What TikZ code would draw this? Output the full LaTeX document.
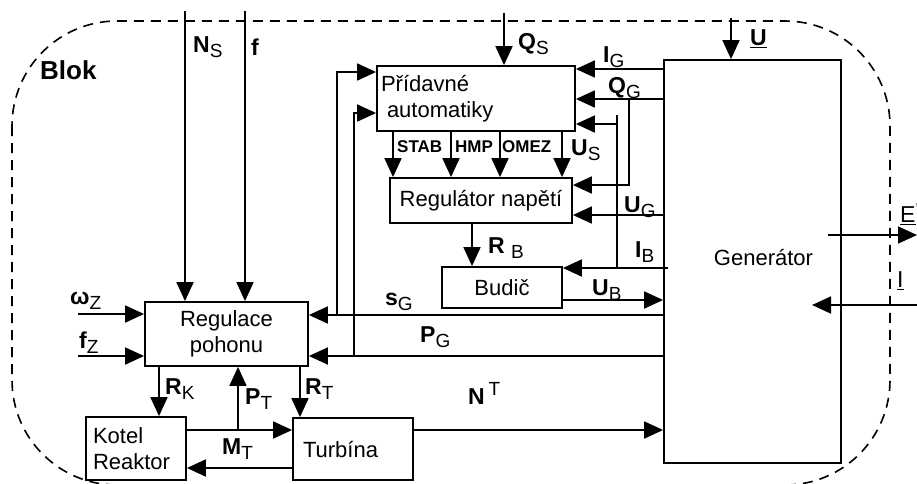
\documentclass[tikz,border=0pt]{standalone}
\usepackage{fontspec}
\setmainfont{Liberation Sans}
\usetikzlibrary{arrows.meta,positioning,calc}

\newcommand{\velic}[2]{{\bfseries #1}\raisebox{-5pt}{\fontsize{19}{22}\selectfont #2}}

\tikzset{
	blok/.style={draw,line width=1.8pt,inner sep=0pt,font=\fontsize{22}{26}\selectfont,align=center},
	sipka/.style={-{Triangle[length=19pt,width=17pt]},line width=1.8pt},
	vedeni/.style={line width=1.8pt},
	popis/.style={anchor=west,inner sep=0pt,font=\fontsize{23}{26}\selectfont},
	mala/.style={anchor=west,inner sep=0pt,font=\fontsize{17}{19}\selectfont\bfseries}
}

\begin{document}
\begin{tikzpicture}[x=1pt,y=-1pt]
	\useasboundingbox (0,0) rectangle (917,483);
	% hranice bloku
	\draw[line width=1.6pt,dash pattern=on 10pt off 7pt,rounded corners=105pt] (12,21) rectangle (890,485);
	\node[popis,font=\fontsize{26}{30}\selectfont\bfseries] (blok) at (40,70) {Blok};
	
	% bloky
	\node[blok,minimum width=198pt,minimum height=65pt,text width=190pt,align=left] (pa) at (476,98.5) {P\v{r}\'idavn\'e\\\hspace*{6pt}automatiky};
	\node[blok,minimum width=182pt,minimum height=45pt] (rn) at (481,200.5) {Regul\'ator nap\v{e}t\'i};
	\node[blok,minimum width=120pt,minimum height=41pt] (bu) at (502,287.5) {Budi\v{c}};
	\node[blok,minimum width=177pt,minimum height=403pt,label={[xshift=11pt,yshift=4pt,font=\fontsize{22}{26}\selectfont]center:Gener\'ator}] (gen) at (752.5,261.5) {};
	\node[blok,minimum width=163pt,minimum height=64pt] (rp) at (226.5,334) {Regulace\\pohonu};
	\node[blok,minimum width=100pt,minimum height=63pt,text width=86pt,align=left] (kr) at (136,448.5) {Kotel\\Reaktor};
	\node[blok,minimum width=120pt,minimum height=62pt,text width=100pt,align=left] (tu) at (353,449) {Turb\'ina};
	
	% vstupy shora
	\coordinate (ns) at (185,11);
	\coordinate (fin) at (245,11);
	\coordinate (qs) at (504,13);
	\coordinate (uin) at (731,18);
	\draw[sipka] (ns) -- (ns |- rp.north);
	\draw[sipka] (fin) -- (fin |- rp.north);
	\draw[sipka] (qs) -- (qs |- pa.north);
	\draw[sipka] (uin) -- (uin |- gen.north);
	\node[popis] (lns) at (193,47) {\velic{N}{S}};
	\node[popis] (lf) at (251,47) {\textbf{f}};
	\node[popis] (lqs) at (518,44) {\velic{Q}{S}};
	\node[popis] (lu) at (750,39) {\underline{\textbf{U}}};
	
	% z generatoru do pridavnych automatik a regulatoru
	\coordinate (qg) at (629,99);
	\coordinate (ibh) at (617,115);
	\coordinate (ib) at (668,268);
	\draw[sipka] (gen.west |- 0,69) -- (pa.east |- 0,69);
	\draw[sipka] (gen.west |- 0,99) -- (pa.east |- 0,99);
	\draw[sipka] (qg) |- (rn.east |- 0,185);
	\draw[sipka] (gen.west |- 0,215) -- (rn.east |- 0,215);
	\draw[vedeni] (ibh) -- (ibh |- ib);
	\draw[sipka] (ibh |- 0,124) -- (pa.east |- 0,124);
	\draw[sipka] (ib) -- (bu.east |- ib);
	\draw[sipka] (bu.east |- 0,300) -- (gen.west |- 0,300);
	\node[popis] (lig) at (603,57) {\velic{I}{G}};
	\node[popis] (lqg) at (608,88) {\velic{Q}{G}};
	\node[popis] (lug) at (624,207) {\velic{U}{G}};
	\node[popis] (lib) at (635,252) {\velic{I}{B}};
	\node[popis] (lub) at (592,290) {\velic{U}{B}};
	
	% signaly automatik
	\foreach \x in {393,451,500,562}
		\draw[sipka] (pa.south -| \x,0) -- (rn.north -| \x,0);
	\node[mala] (lstab) at (397,147) {STAB};
	\node[mala] (lhmp) at (455,147) {HMP};
	\node[mala] (lomez) at (502,147) {OMEZ};
	\node[popis] (lus) at (571,150) {\velic{U}{S}};
	\draw[sipka] (rn.south -| 472,0) -- (bu.north -| 472,0);
	\node[popis] (lrb) at (488,248) {\velic{R\ }{B}};
	
	% zpetne vazby do regulace pohonu
	\coordinate (sg) at (337,315);
	\coordinate (pg) at (354,356);
	\draw[sipka] (gen.west |- sg) -- (rp.east |- sg);
	\draw[sipka] (gen.west |- pg) -- (rp.east |- pg);
	\draw[sipka] (sg) |- (pa.west |- 0,72);
	\draw[sipka] (pg) |- (pa.west |- 0,113);
	\node[popis] (lsg) at (385,302) {\velic{s}{G}};
	\node[popis] (lpg) at (420,337) {\velic{P}{G}};
	
	% vstupy regulace
	\coordinate (wz) at (78,314);
	\coordinate (fz) at (78,356);
	\draw[sipka] (wz) -- (rp.west |- wz);
	\draw[sipka] (fz) -- (rp.west |- fz);
	\node[popis] (lwz) at (70,301) {\velic{ω}{Z}};
	\node[popis] (lfz) at (79,343) {\velic{f}{Z}};
	
	% kotel a turbina
	\coordinate (mt) at (238,430);
	\draw[sipka] (rp.south -| 159,0) -- (kr.north -| 159,0);
	\draw[sipka] (rp.south -| 300,0) -- (tu.north -| 300,0);
	\draw[sipka] (kr.east |- mt) -- (tu.west |- mt);
	\draw[sipka] (mt) -- (rp.south -| mt);
	\draw[sipka] (tu.west |- 0,468) -- (kr.east |- 0,468);
	\draw[sipka] (tu.east |- 0,430) -- (gen.west |- 0,430);
	\node[popis] (lrk) at (165,389) {\velic{R}{K}};
	\node[popis] (lpt) at (245,399) {\velic{P}{T}};
	\node[popis] (lrt) at (305,389) {\velic{R}{T}};
	\node[popis] (lmt) at (222,449) {\velic{M}{T}};
	\node[popis] (lnt) at (468,393) {\textbf{N}\,\raisebox{9pt}{\fontsize{19}{22}\selectfont T}};
	
	% vystupy generatoru
	\coordinate (eo) at (828,235);
	\coordinate (ii) at (917,305);
	\draw[sipka] (eo) -- (917,235);
	\draw[sipka] (ii) -- (812,305);
	\node[popis] (le) at (900,214) {\underline{E}\raisebox{9pt}{\fontsize{14}{14}\selectfont '}};
	\node[popis] (li) at (897,281) {\underline{I}};
\end{tikzpicture}
\end{document}
